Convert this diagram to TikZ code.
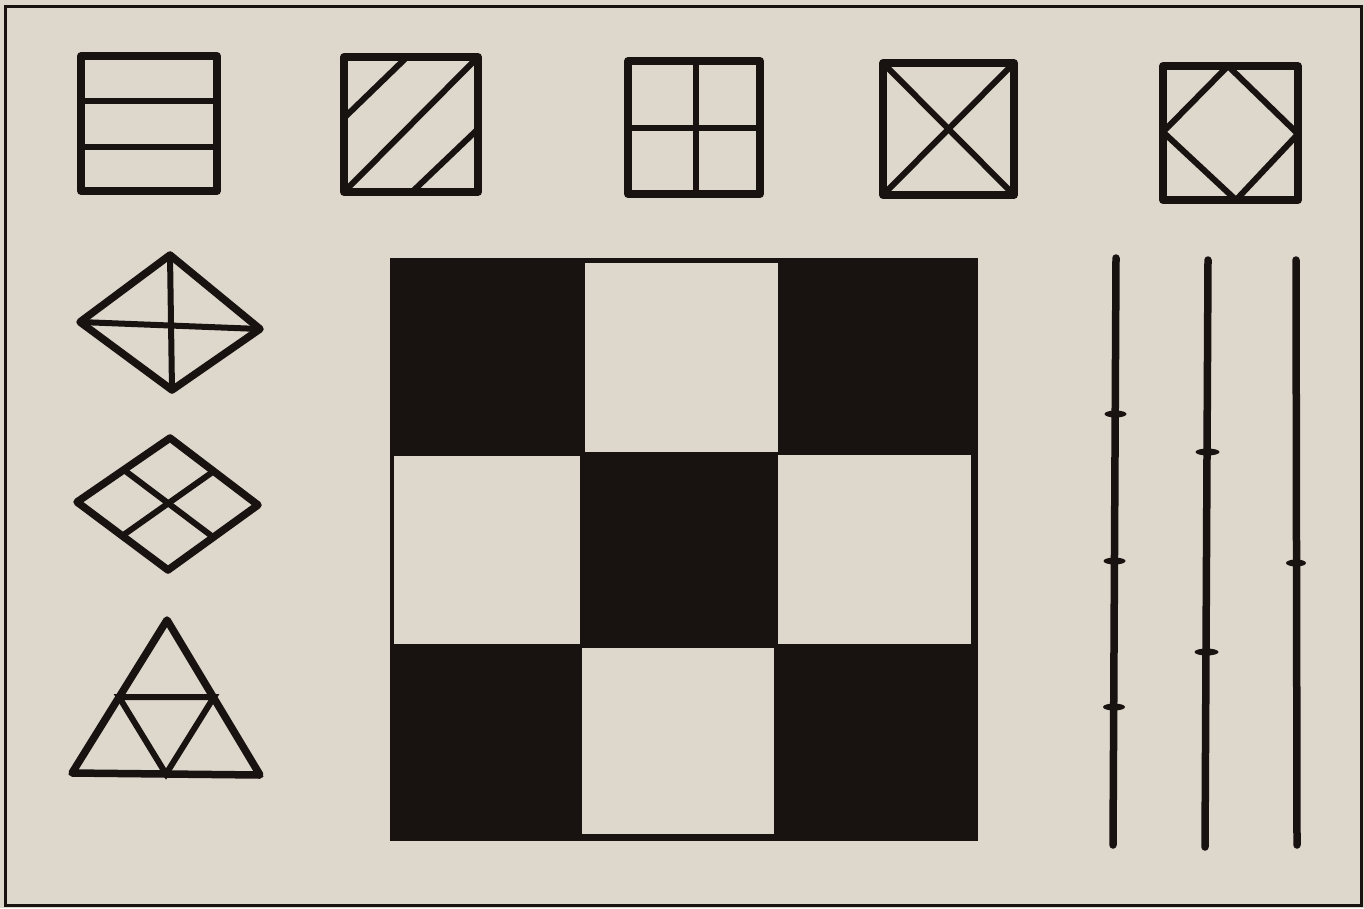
\documentclass[tikz,border=0pt]{standalone}
\definecolor{paper}{RGB}{222,215,204}
\definecolor{ink}{RGB}{24,18,17}
\tikzset{
  fig/.style={draw=ink, line width=7.5pt, line join=round, line cap=round},
  inner/.style={draw=ink, line width=6pt, line cap=round},
  rod/.style={draw=ink, line width=7.5pt, line cap=round},
  tick/.style={fill=ink, draw=none},
  cell/.style={fill=paper, draw=none}
}
\begin{document}
\begin{tikzpicture}[x=1pt,y=-1pt]
\useasboundingbox (0,0) rectangle (1364,908);
\fill[paper] (0,0) rectangle (1364,908);
% frame
\draw[ink, line width=3pt] (5,6) rectangle (1361,905);

% square 1: horizontal stripes
\draw[fig] (81,56) rectangle (217,191);
\draw[inner] (81,101) -- (217,101);
\draw[inner] (81,147) -- (217,147);

% square 2: three diagonals
\draw[fig] (344,57) rectangle (478,192);
\draw[inner] (344,118) -- (407,57);
\draw[inner] (344,192) -- (478,57);
\draw[inner] (412,192) -- (478,129);

% square 3: cross
\draw[fig] (628,61) rectangle (760,194);
\draw[inner] (696,61) -- (696,194);
\draw[inner] (628,128) -- (760,128);

% square 4: X
\draw[fig] (883,63) rectangle (1014,195);
\draw[inner] (883,63) -- (1014,195);
\draw[inner] (1014,63) -- (883,195);

% square 5: inscribed diamond
\draw[fig] (1163,66) rectangle (1298,200);
\draw[inner, line join=round] (1228,66) -- (1298,134) -- (1236,200) -- (1163,132) -- cycle;

% diamond 1 with cross
\draw[fig] (170,255) -- (260,329) -- (172,390) -- (80,322) -- cycle;
\draw[inner] (170,255) -- (172,390);
\draw[inner] (80,322) -- (260,329);

% diamond 2 with midlines
\draw[fig] (170,438) -- (258,505) -- (168,570) -- (77,502) -- cycle;
\draw[inner] (124,470) -- (213,537);
\draw[inner] (214,471) -- (122,536);

% triangle with medial triangle
\draw[fig] (167,620) -- (260,775) -- (72,773) -- cycle;
\draw[inner] (119,697) -- (214,697) -- (166,774) -- cycle;

% checkerboard
\fill[ink] (390,258) rectangle (978,841);
\fill[cell] (585,263) rectangle (778,452);
\fill[cell] (394,456) rectangle (580,644);
\fill[cell] (778,455) rectangle (971,644);
\fill[cell] (582,648) rectangle (774,834);

% vertical rods with ticks
\draw[rod] (1116,258) -- (1113,845);
\fill[tick] (1115.5,414) ellipse [x radius=11pt, y radius=3.5pt];
\fill[tick] (1114.5,561) ellipse [x radius=11pt, y radius=3.5pt];
\fill[tick] (1114,707) ellipse [x radius=11pt, y radius=3.5pt];

\draw[rod] (1208,260) -- (1205,847);
\fill[tick] (1207.5,452) ellipse [x radius=12pt, y radius=3.5pt];
\fill[tick] (1206.5,652) ellipse [x radius=12pt, y radius=3.5pt];

\draw[rod] (1296,260) -- (1297,845);
\fill[tick] (1296,563) ellipse [x radius=10pt, y radius=3.5pt];
\end{tikzpicture}
\end{document}
